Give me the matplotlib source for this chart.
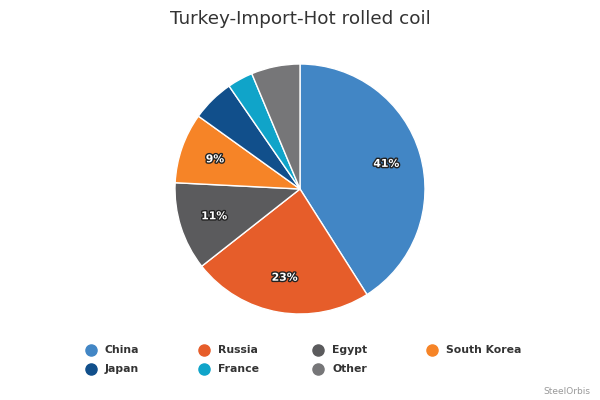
import matplotlib
matplotlib.use("Agg")
import matplotlib.pyplot as plt
import matplotlib.patheffects as pe
from matplotlib.lines import Line2D

categories = ["China", "Russia", "Egypt", "South Korea", "Japan", "France", "Other"]
values = [41.0, 23.4, 11.4, 9.1, 5.5, 3.3, 6.3]
colors = ["#4286c5", "#e65d2a", "#5b5b5d", "#f68427", "#114f8b", "#10a4c9", "#767678"]
title = "Turkey-Import-Hot rolled coil"
credit = "SteelOrbis"

W, H = 600, 400
fig = plt.figure(figsize=(6, 4), dpi=100)
fig.patch.set_facecolor("white")

cx, cy, r = 300, 189, 125
ax = fig.add_axes([(cx - r) / W, (H - cy - r) / H, 2 * r / W, 2 * r / H])


def fmt(p):
    return f"{p:.0f}%" if p >= 8 else ""


wedges, texts, autotexts = ax.pie(
    values, colors=colors, startangle=90, counterclock=False, radius=1,
    autopct=fmt, pctdistance=0.72,
    wedgeprops=dict(edgecolor="white", linewidth=1),
    textprops=dict(color="white", fontsize=7.8, fontweight="bold"),
)
ax.set_xlim(-1, 1)
ax.set_ylim(-1, 1)
ax.set_aspect("equal")
ax.axis("off")
for t in autotexts:
    t.set_path_effects([pe.withStroke(linewidth=2, foreground="#222222")])

fig.text(0.5, 1 - 24 / H, title, ha="center", va="baseline",
         fontsize=13.2, color="#333333")

col_x = [90.7, 204.3, 318.3, 431.7]
row_y = [350, 368.7]
for i, (lab, c) in enumerate(zip(categories, colors)):
    row, col = divmod(i, 4)
    mx, my = col_x[col], row_y[row]
    fig.add_artist(Line2D([mx / W], [1 - my / H], marker="o", markersize=8,
                          color=c, linestyle="none", transform=fig.transFigure))
    fig.text((mx + 14) / W, 1 - my / H, lab, ha="left", va="center",
             fontsize=7.8, fontweight="bold", color="#333333")

fig.text(590 / W, 1 - 391 / H, credit, ha="right", va="center",
         fontsize=6.5, color="#999999")

fig.savefig("out.png", dpi=100)
